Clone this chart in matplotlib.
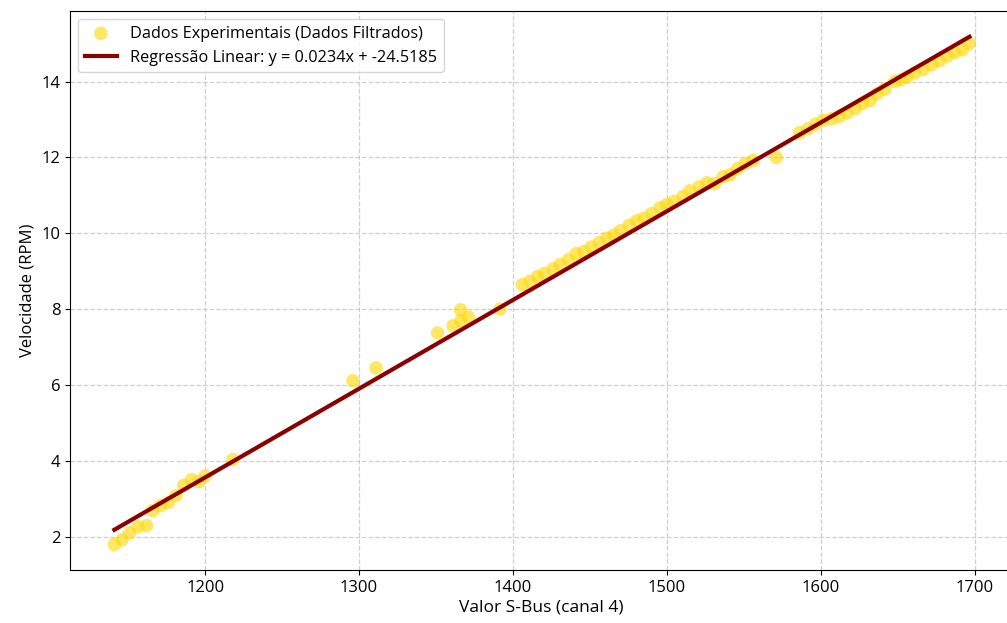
import matplotlib
matplotlib.use("Agg")
import matplotlib.pyplot as plt
import numpy as np

plt.rcParams['font.family'] = ['Open Sans', 'DejaVu Sans']

sbus = [1141, 1146, 1151, 1156.5, 1162, 1166, 1171, 1176, 1181, 1186, 1191, 1196, 1200, 1218,
        1296, 1311, 1351, 1361, 1366, 1366, 1371, 1391.5,
        1406, 1411, 1416, 1420.5, 1426, 1430.5, 1436, 1441, 1446, 1451, 1456, 1461, 1465.5, 1470,
        1475.5, 1480.5, 1485, 1490, 1495.5, 1500, 1505, 1510.5, 1515, 1521, 1526, 1531, 1536.5,
        1541, 1546, 1551, 1556, 1571,
        1586, 1591.5, 1596.5, 1601.5, 1607, 1612, 1617, 1622.5, 1627, 1632, 1636.5, 1641.5,
        1648, 1652, 1656, 1661, 1666.5, 1672, 1677, 1682, 1687, 1692, 1696.5]
rpm = [1.79, 1.92, 2.10, 2.26, 2.29, 2.69, 2.82, 2.90, 3.08, 3.35, 3.50, 3.45, 3.60, 4.03,
       6.11, 6.45, 7.37, 7.56, 7.98, 7.69, 7.79, 8.00,
       8.64, 8.73, 8.86, 8.94, 9.06, 9.17, 9.30, 9.46, 9.52, 9.64, 9.75, 9.87, 9.95, 10.07,
       10.21, 10.33, 10.40, 10.52, 10.67, 10.76, 10.84, 10.97, 11.12, 11.22, 11.33, 11.31, 11.49,
       11.54, 11.71, 11.84, 11.92, 12.00,
       12.65, 12.75, 12.87, 12.98, 13.02, 13.08, 13.17, 13.29, 13.42, 13.50, 13.68, 13.80,
       14.00, 14.05, 14.12, 14.23, 14.32, 14.44, 14.55, 14.67, 14.76, 14.84, 15.00]

slope = 0.0234
intercept = -24.5185

x = np.array(sbus)
y = np.array(rpm)
xl = np.array([x.min(), x.max()])
yl = slope * xl + intercept

fig = plt.figure(figsize=(10.07, 6.23), dpi=100)
ax = fig.add_axes([70/1007, 53/623, (1013-70)/1007, (570-11)/623])
ax.scatter(x, y, s=95, color='gold', alpha=0.6, edgecolors='none',
           label='Dados Experimentais (Dados Filtrados)', zorder=2)
ax.plot(xl, yl, color='darkred', lw=3,
        label=f'Regressão Linear: y = {slope:.4f}x + {intercept:.4f}', zorder=3)
ax.set_xlim(1112.2, 1724.8)
ax.set_ylim(1.12, 15.86)
ax.set_xticks([1200, 1300, 1400, 1500, 1600, 1700])
ax.set_yticks([2, 4, 6, 8, 10, 12, 14])
ax.tick_params(labelsize=12)
ax.set_xlabel('Valor S-Bus (canal 4)', fontsize=12.5, labelpad=3)
ax.set_ylabel('Velocidade (RPM)', fontsize=12)
ax.grid(True, linestyle='--', color='#bbbbbb', alpha=0.7, lw=0.9)
ax.legend(loc='upper left', fontsize=11.7, framealpha=0.8)
fig.savefig('out.png', dpi=100)
